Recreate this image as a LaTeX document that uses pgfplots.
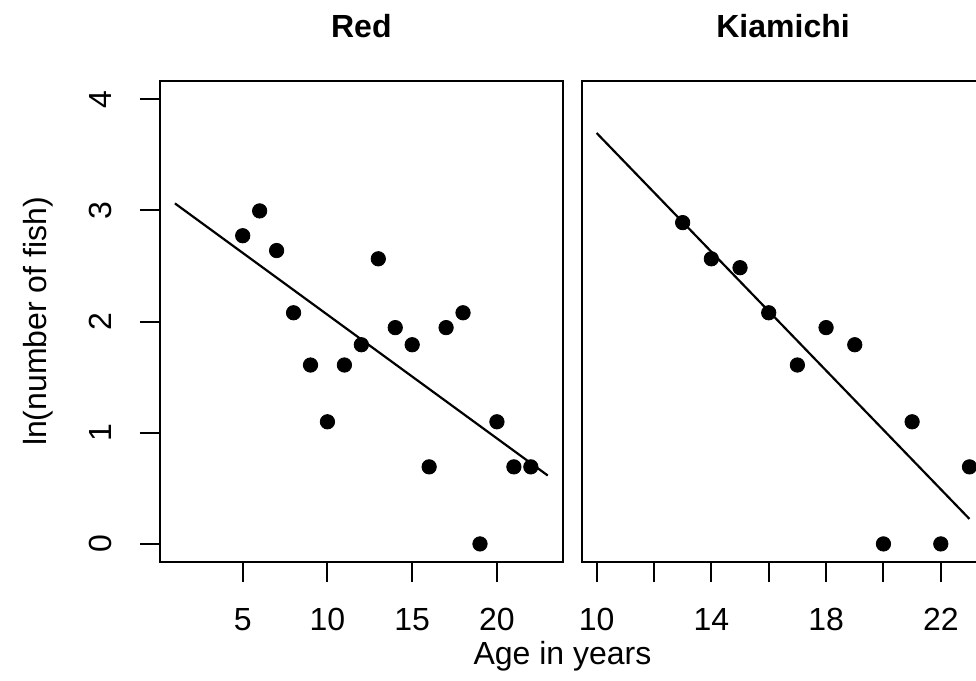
\documentclass[border=0pt]{standalone}
\usepackage{pgfplots}
\usepackage{pgfplotstable}
\pgfplotsset{compat=1.18}
\usepackage{fontspec}
\setmainfont{Liberation Sans}

% ln(number of fish) by age class, two rivers
\pgfplotstableread{
age lnfish
5 2.7726
6 2.9957
7 2.6391
8 2.0794
9 1.6094
10 1.0986
11 1.6094
12 1.7918
13 2.5649
14 1.9459
15 1.7918
16 0.6931
17 1.9459
18 2.0794
19 0
20 1.0986
21 0.6931
22 0.6931
}\redtab

\pgfplotstableread{
age lnfish
13 2.8904
14 2.5649
15 2.4849
16 2.0794
17 1.6094
18 1.9459
19 1.7918
20 0
21 1.0986
22 0
23 0.6931
}\kiamichitab

\begin{document}
\fontsize{16}{19}\selectfont
\begin{tikzpicture}
\useasboundingbox (0pt,0pt) rectangle (488pt,340.5pt);
\clip (0pt,0pt) rectangle (488pt,340.5pt);
\pgfplotsset{
  panel/.style={
    scale only axis, width=201.35pt, height=240.1pt, anchor=south west,
    ymin=-0.16, ymax=4.16,
    tick pos=left, tick align=outside, major tick length=10pt,
    major tick style={black, line width=1pt},
    axis line style={line width=1pt},
    /pgf/number format/assume math mode=true,
    ticklabel style={font=\fontsize{16}{19}\selectfont},
    xticklabel style={anchor=north, inner sep=0pt},
    xticklabel shift=13pt,
    title style={at={(0.5,1)}, anchor=base, yshift=16pt,
                 font=\fontsize{16}{19}\selectfont\bfseries},
  },
  pts/.style={only marks, mark=*, mark size=3.6pt,
              mark options={fill=black, draw=black, line width=0.4pt}},
  fit/.style={black, line width=1.1pt, no marks},
}

% Red River
\begin{axis}[panel, at={(80pt,59.65pt)},
  title={Red},
  xmin=0.12, xmax=23.88,
  xtick={5,10,15,20},
  ytick={0,1,2,3,4},
  yticklabel style={rotate=90, anchor=south, inner sep=0pt},
  yticklabel shift=14pt,
]
\addplot[pts] table[x=age, y=lnfish] {\redtab};
\addplot[fit] coordinates {(1,3.0633) (23,0.6152)};
\end{axis}

% Kiamichi River
\begin{axis}[panel, at={(290.85pt,59.65pt)},
  title={Kiamichi},
  xmin=9.48, xmax=23.52,
  xtick={10,12,14,16,18,20,22},
  xticklabels={10,{},14,{},18,{},22},
  ytick=\empty,
]
\addplot[pts] table[x=age, y=lnfish] {\kiamichitab};
\addplot[fit] coordinates {(10,3.6967) (23,0.2243)};
\end{axis}

\node[anchor=base] at (281.25pt,8.5pt) {Age in years};
\node[rotate=90, anchor=base] at (23.4pt,179.75pt) {ln(number of fish)};
\end{tikzpicture}
\end{document}
